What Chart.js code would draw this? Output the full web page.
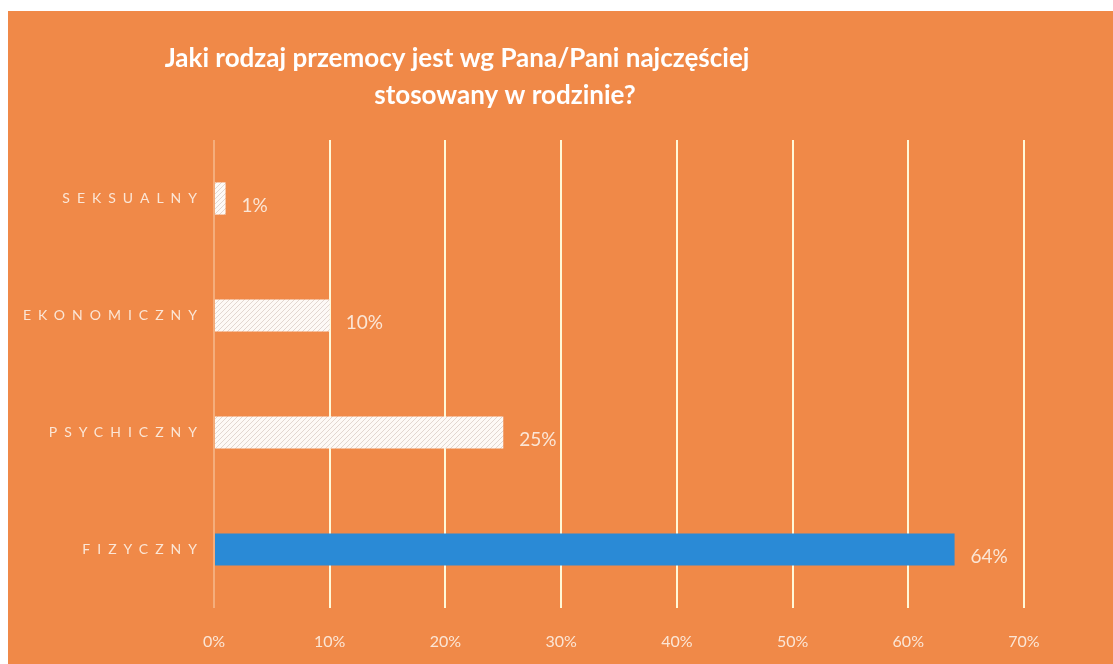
<!DOCTYPE html>
<html>
<head>
<meta charset="utf-8">
<script src="https://cdn.jsdelivr.net/npm/chart.js@4"></script>
<style>
  html, body { margin: 0; padding: 0; background: #ffffff; }
  #box {
    position: absolute; left: 8px; top: 11px;
    width: 1105px; height: 653px;
    background: #f08948;
  }
</style>
</head>
<body>
<div id="box"><canvas id="barChart"></canvas></div>
<script>
var categories = ['SEKSUALNY', 'EKONOMICZNY', 'PSYCHICZNY', 'FIZYCZNY'];
var percentValues = [1, 10, 25, 64];
var tickValues = [0, 10, 20, 30, 40, 50, 60, 70];
var titleLines = ['Jaki rodzaj przemocy jest wg Pana/Pani najczęściej', 'stosowany w rodzinie?'];

var labelColor = '#fbe6d6';

// category axis with spaced capitals
class SpacedCategoryScale extends Chart.CategoryScale {
    drawLabels(chartArea) {
        var ctx = this.ctx;
        ctx.save();
        ctx.letterSpacing = '7px';
        super.drawLabels(chartArea);
        ctx.restore();
    }
}
SpacedCategoryScale.id = 'spacedCategory';
SpacedCategoryScale.defaults = Chart.CategoryScale.defaults;
Chart.register(SpacedCategoryScale);

function hatchPattern() {
    var c = document.createElement('canvas');
    c.width = 5; c.height = 5;
    var p = c.getContext('2d');
    p.fillStyle = '#fdf9f6';
    p.fillRect(0, 0, 5, 5);
    p.strokeStyle = '#e2d6d0';
    p.lineWidth = 1;
    p.beginPath();
    p.moveTo(-1, 6); p.lineTo(6, -1);
    p.moveTo(-1, 1); p.lineTo(1, -1);
    p.moveTo(4, 6); p.lineTo(6, 4);
    p.stroke();
    return p.createPattern(c, 'repeat');
}

var titlePlugin = {
    id: 'twoLineTitle',
    afterDraw: function (chart) {
        var ctx = chart.ctx;
        ctx.save();
        ctx.fillStyle = '#ffffff';
        ctx.font = 'bold 26px Lato';
        ctx.textAlign = 'center';
        ctx.textBaseline = 'middle';
        ctx.fillText(titleLines[0], 449, 48);
        ctx.fillText(titleLines[1], 497, 85);
        ctx.restore();
    }
};

var valueLabels = {
    id: 'valueLabels',
    afterDatasetsDraw: function (chart) {
        var ctx = chart.ctx;
        var meta = chart.getDatasetMeta(0);
        ctx.save();
        ctx.fillStyle = labelColor;
        ctx.font = '19px Lato';
        ctx.textAlign = 'left';
        ctx.textBaseline = 'middle';
        meta.data.forEach(function (bar, i) {
            ctx.fillText(percentValues[i] + '%', bar.x + 16, bar.y + 7);
        });
        ctx.restore();
    }
};

document.addEventListener('DOMContentLoaded', function () {
    var hatch = hatchPattern();
    var ctx = document.getElementById('barChart').getContext('2d');
    new Chart(ctx, {
        type: 'bar',
        data: {
            labels: categories,
            datasets: [{
                data: percentValues,
                backgroundColor: percentValues.map(function (v, i) {
                    return i === percentValues.length - 1 ? '#2a8ad6' : hatch;
                }),
                borderWidth: 0,
                categoryPercentage: 0.55,
                barPercentage: 0.5
            }]
        },
        plugins: [titlePlugin, valueLabels],
        options: {
            indexAxis: 'y',
            responsive: true,
            maintainAspectRatio: false,
            animation: false,
            layout: { padding: { left: 0, right: 89, top: 129, bottom: 0 } },
            scales: {
                x: {
                    min: 0,
                    max: 70,
                    afterBuildTicks: function (scale) {
                        scale.ticks = tickValues.map(function (v) { return { value: v }; });
                    },
                    afterFit: function (scale) { scale.height = 56; },
                    border: { display: false },
                    grid: {
                        drawTicks: false,
                        lineWidth: 2,
                        color: function (c) {
                            return c.index === 0 ? 'rgba(255,240,220,0.35)' : '#fff8d8';
                        }
                    },
                    ticks: {
                        padding: 24,
                        color: labelColor,
                        font: { family: 'Lato', size: 16 },
                        callback: function (v) { return v + '%'; }
                    }
                },
                y: {
                    type: 'spacedCategory',
                    afterFit: function (scale) { scale.width = 206; },
                    border: { display: false },
                    grid: { display: false },
                    ticks: {
                        padding: 2,
                        color: labelColor,
                        font: { family: 'Lato', size: 14 }
                    }
                }
            },
            plugins: {
                legend: { display: false },
                tooltip: { enabled: false }
            }
        }
    });
});
</script>
</body>
</html>
